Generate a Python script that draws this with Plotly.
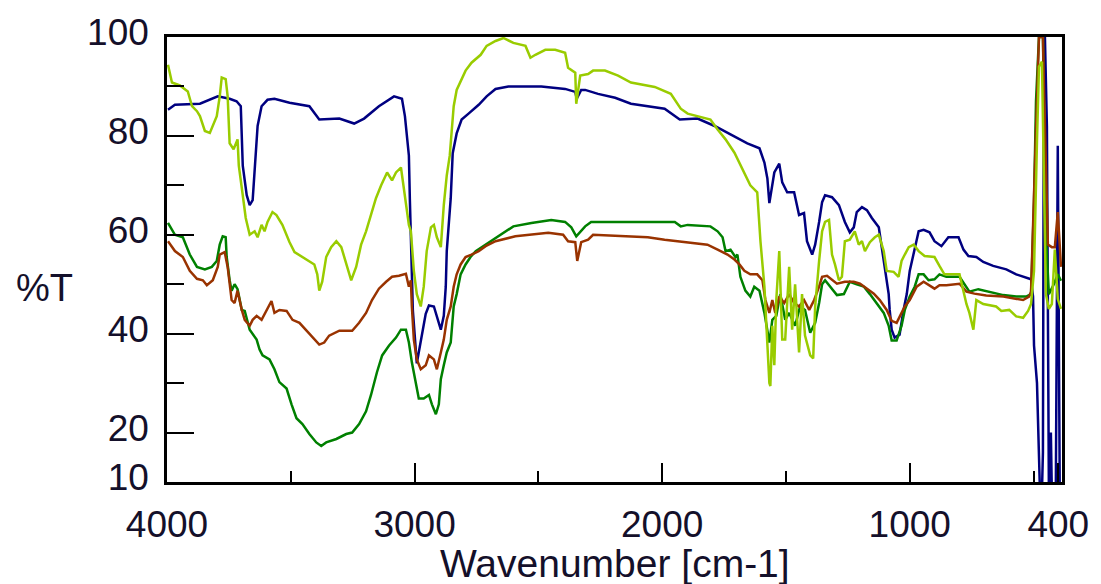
import plotly.graph_objects as go

# ---------------- data (wavenumber in cm-1, %T) ----------------
blue_wn = [3996, 3968, 3867, 3827, 3795, 3747, 3719, 3702, 3694, 3678, 3666, 3654, 3642, 3634, 3618, 3594,
           3566, 3505, 3425, 3385, 3304, 3244, 3204, 3144, 3083, 3051, 3039, 3023, 3019, 3015, 3011, 3007,
           2991, 2955, 2942, 2922, 2894, 2882, 2874, 2870, 2854, 2846, 2830, 2810, 2782, 2741, 2709, 2673,
           2621, 2488, 2392, 2351, 2345, 2327, 2311, 2259, 2190, 2126, 1990, 1929, 1857, 1788, 1724, 1656,
           1607, 1587, 1575, 1567, 1547, 1527, 1515, 1495, 1467, 1447, 1427, 1415, 1394, 1382, 1366, 1354,
           1342, 1314, 1286, 1262, 1242, 1226, 1214, 1193, 1173, 1153, 1125, 1113, 1101, 1085, 1081, 1073,
           1061, 1041, 1025, 1012, 1000, 984, 964, 944, 920, 900, 872, 844, 803, 783, 763, 731, 703, 663,
           610, 570, 542, 510, 502, 498, 486, 474, 466, 462, 458, 454, 446, 438, 430, 426, 418, 410, 402, 394, 389]
blue_t = [85.3, 86.3, 86.5, 87.3, 88.0, 87.5, 87.0, 86.0, 74.0, 68.0, 66.0, 67.0, 77.0, 82.0, 86.0, 87.3,
          87.5, 86.7, 86.0, 83.3, 83.5, 82.5, 83.5, 86.0, 88.0, 87.5, 84.0, 76.0, 67.0, 60.0, 52.5, 44.7,
          34.0, 44.0, 45.7, 45.5, 40.8, 43.6, 49.5, 56.7, 67.4, 76.5, 80.5, 83.3, 84.5, 86.3, 88.0, 89.5,
          90.0, 90.0, 89.5, 88.9, 87.5, 89.3, 89.3, 88.5, 87.7, 86.5, 85.5, 83.3, 83.5, 82.0, 80.3, 78.5,
          77.5, 74.6, 71.4, 66.4, 72.6, 74.4, 70.6, 68.6, 68.6, 64.0, 64.4, 58.7, 56.0, 58.0, 62.6, 66.6,
          68.0, 67.6, 66.0, 62.6, 60.5, 61.5, 64.6, 65.6, 65.0, 63.4, 61.5, 57.5, 52.7, 48.0, 44.8, 40.8,
          39.2, 39.8, 44.8, 48.0, 52.7, 56.0, 60.7, 61.0, 60.5, 58.7, 57.7, 59.5, 59.5, 57.0, 55.7, 55.5, 54.5, 53.7,
          53.0, 52.0, 51.5, 51.0, 47.5, 37.6, 30.0, 8.0, 8.0, 16.0, 100.0, 100.0, 82.0, 8.0, 20.0, 8.0, 8.0, 8.0, 78.0, 8.0, 8.0]

lime_wn = [3996, 3980, 3948, 3916, 3899, 3879, 3867, 3847, 3827, 3815, 3799, 3787, 3779, 3763, 3755, 3747,
           3731, 3715, 3710, 3694, 3682, 3666, 3646, 3634, 3618, 3606, 3594, 3574, 3558, 3534, 3505, 3485,
           3453, 3425, 3405, 3393, 3385, 3373, 3357, 3337, 3316, 3296, 3276, 3256, 3236, 3216, 3196, 3176,
           3156, 3135, 3111, 3091, 3075, 3055, 3039, 3023, 3015, 3003, 2991, 2975, 2963, 2951, 2934, 2922,
           2910, 2894, 2882, 2870, 2858, 2842, 2830, 2814, 2794, 2770, 2733, 2709, 2673, 2641, 2601, 2552,
           2532, 2512, 2472, 2432, 2392, 2380, 2351, 2347, 2331, 2299, 2279, 2231, 2178, 2126, 2030, 1965,
           1925, 1897, 1857, 1805, 1776, 1744, 1708, 1668, 1644, 1616, 1603, 1587, 1575, 1567, 1563, 1555,
           1547, 1539, 1527, 1515, 1503, 1487, 1475, 1463, 1447, 1435, 1423, 1402, 1390, 1382, 1366, 1354,
           1342, 1326, 1314, 1302, 1286, 1274, 1262, 1242, 1222, 1206, 1193, 1181, 1161, 1141, 1125, 1105,
           1093, 1065, 1045, 1033, 1020, 1004, 984, 964, 940, 900, 880, 860, 799, 783, 771, 759, 743, 731,
           703, 651, 630, 598, 570, 542, 522, 510, 498, 486, 478, 466, 458, 450, 438, 426, 414, 402, 389]
lime_t = [94.4, 90.8, 90.2, 89.0, 86.0, 85.0, 84.0, 81.0, 80.6, 82.0, 84.0, 88.0, 91.8, 91.5, 88.0, 78.5,
          77.3, 79.3, 74.0, 68.0, 63.4, 60.0, 60.7, 59.5, 62.0, 60.7, 62.6, 64.6, 64.0, 62.0, 58.5, 56.5,
          55.5, 54.7, 54.0, 52.0, 48.7, 50.5, 55.5, 57.5, 58.7, 57.5, 54.0, 50.8, 53.5, 58.0, 60.7, 64.0,
          67.4, 70.0, 72.6, 71.0, 72.6, 73.6, 67.4, 62.0, 60.7, 52.7, 48.0, 45.5, 49.5, 56.7, 61.5, 62.0,
          59.5, 57.5, 66.0, 72.0, 76.0, 86.0, 89.3, 91.2, 93.2, 94.8, 96.4, 98.2, 99.2, 99.8, 98.8, 98.2,
          95.8, 96.4, 97.4, 97.4, 96.8, 93.8, 92.8, 86.5, 92.2, 92.5, 93.2, 93.2, 92.2, 90.8, 89.9, 88.5,
          85.5, 84.5, 84.0, 83.3, 81.3, 79.3, 76.6, 72.6, 70.0, 68.6, 58.7, 49.5, 37.6, 30.0, 29.4, 41.6,
          33.6, 46.8, 56.7, 38.8, 38.8, 53.5, 40.8, 50.0, 36.2, 48.0, 39.6, 35.6, 35.0, 45.5, 54.7, 60.7,
          62.6, 63.0, 56.0, 54.0, 50.8, 51.5, 58.7, 59.0, 60.7, 58.0, 58.7, 56.7, 58.5, 59.5, 60.0, 56.7,
          52.7, 52.5, 51.5, 54.7, 56.0, 57.5, 58.0, 56.7, 55.7, 55.5, 53.7, 52.0, 52.0, 48.5, 46.0, 44.2, 40.8, 46.8,
          46.0, 45.5, 44.6, 44.8, 43.5, 43.2, 44.6, 46.0, 52.7, 79.0, 94.0, 95.0, 75.0, 48.0, 45.0, 46.0, 57.0, 47.0, 45.0]

green_wn = [3996, 3968, 3936, 3908, 3879, 3847, 3819, 3799, 3787, 3775, 3763, 3759, 3747, 3739, 3727, 3715,
            3698, 3686, 3666, 3638, 3626, 3614, 3586, 3566, 3546, 3517, 3497, 3477, 3453, 3425, 3397, 3377,
            3357, 3316, 3276, 3252, 3224, 3196, 3176, 3152, 3131, 3103, 3075, 3055, 3035, 3023, 3011, 2995,
            2983, 2963, 2942, 2930, 2914, 2902, 2894, 2882, 2870, 2854, 2842, 2830, 2814, 2794, 2774, 2753,
            2713, 2661, 2601, 2528, 2448, 2392, 2367, 2347, 2311, 2287, 2126, 1949, 1925, 1897, 1805, 1776,
            1756, 1744, 1724, 1704, 1696, 1684, 1664, 1644, 1628, 1607, 1587, 1567, 1555, 1539, 1523, 1503,
            1487, 1463, 1443, 1423, 1402, 1382, 1366, 1354, 1342, 1322, 1294, 1266, 1242, 1214, 1185, 1161,
            1133, 1105, 1085, 1073, 1053, 1033, 1020, 1000, 980, 964, 944, 924, 900, 880, 852, 799, 779, 759,
            723, 679, 622, 570, 530, 510, 498, 490, 478, 462, 450, 438, 418, 402, 389]
green_t = [62.4, 60.0, 59.5, 56.0, 53.5, 53.0, 53.5, 54.7, 58.0, 59.7, 59.5, 55.5, 50.8, 48.7, 50.0, 49.0,
           44.8, 44.6, 40.8, 38.8, 36.8, 35.6, 34.8, 32.8, 30.2, 28.9, 25.7, 22.9, 21.7, 19.7, 18.0, 17.3,
           18.0, 18.7, 19.7, 20.0, 21.7, 24.3, 27.6, 32.2, 35.6, 37.6, 39.2, 40.8, 40.8, 38.2, 34.2, 30.2,
           26.9, 26.9, 27.6, 25.7, 23.7, 25.7, 30.8, 33.6, 36.2, 38.2, 45.5, 48.0, 52.0, 54.0, 55.5, 56.7,
           58.0, 59.7, 61.7, 62.4, 63.0, 62.6, 61.5, 59.7, 61.7, 62.6, 62.6, 62.6, 61.7, 62.0, 61.7, 60.7,
           59.5, 56.7, 57.0, 55.5, 56.0, 51.5, 48.7, 47.5, 49.5, 48.7, 44.2, 38.2, 42.8, 43.6, 48.0, 42.8,
           44.2, 41.6, 45.5, 44.8, 40.2, 42.2, 46.2, 50.0, 50.8, 49.5, 47.8, 48.0, 50.5, 50.0, 49.5, 48.0,
           46.2, 44.2, 41.6, 38.6, 38.6, 41.6, 44.8, 47.5, 49.5, 52.0, 52.0, 50.8, 51.0, 52.0, 51.5, 51.5, 50.0, 48.5,
           49.0, 48.5, 47.8, 47.5, 47.5, 48.0, 66.6, 87.0, 100.0, 100.0, 60.0, 48.0, 50.0, 52.0, 50.7]

brown_wn = [3996, 3968, 3936, 3908, 3879, 3855, 3839, 3815, 3795, 3787, 3767, 3755, 3739, 3727, 3715, 3698,
            3686, 3666, 3654, 3638, 3618, 3598, 3578, 3566, 3546, 3517, 3493, 3465, 3437, 3413, 3385, 3365,
            3345, 3304, 3252, 3224, 3196, 3172, 3144, 3115, 3091, 3063, 3035, 3023, 3015, 3011, 3003, 2991,
            2975, 2955, 2942, 2922, 2910, 2894, 2882, 2870, 2854, 2842, 2830, 2814, 2794, 2770, 2741, 2713,
            2673, 2593, 2528, 2460, 2400, 2380, 2351, 2343, 2327, 2299, 2279, 2150, 2058, 1990, 1897, 1817,
            1776, 1736, 1708, 1688, 1668, 1644, 1616, 1595, 1583, 1567, 1555, 1543, 1527, 1507, 1487, 1467,
            1447, 1427, 1406, 1386, 1366, 1354, 1334, 1314, 1294, 1262, 1226, 1201, 1173, 1145, 1121, 1093,
            1073, 1053, 1033, 1020, 1000, 972, 944, 920, 900, 880, 852, 799, 771, 739, 691, 622, 570, 542,
            518, 510, 490, 478, 462, 458, 442, 426, 414, 402, 389]
brown_t = [58.7, 56.7, 55.5, 52.7, 51.1, 50.8, 49.8, 50.8, 53.5, 56.0, 56.5, 53.5, 46.8, 46.2, 48.7, 44.8,
           42.8, 41.6, 42.8, 43.6, 42.8, 44.8, 46.6, 44.2, 44.8, 44.6, 42.8, 42.2, 40.6, 39.2, 37.8, 38.2,
           39.6, 40.6, 40.6, 42.2, 44.2, 46.8, 49.1, 50.5, 51.5, 51.7, 52.1, 49.5, 50.8, 45.5, 38.8, 34.8,
           32.8, 33.6, 35.6, 34.8, 32.8, 36.2, 38.8, 42.8, 45.5, 49.5, 52.0, 54.0, 55.5, 56.0, 56.7, 57.7,
           58.7, 59.7, 60.0, 60.4, 60.0, 58.7, 58.5, 54.7, 58.5, 59.0, 60.0, 59.7, 59.5, 59.0, 58.5, 58.0,
           57.0, 56.0, 55.0, 54.0, 52.7, 52.0, 52.0, 50.8, 46.8, 44.2, 46.8, 44.2, 47.5, 46.2, 48.0, 46.2,
           45.5, 46.8, 44.8, 46.8, 49.5, 51.5, 51.7, 50.8, 50.1, 50.5, 50.5, 50.1, 49.1, 48.1, 46.8, 44.8,
           42.6, 42.2, 44.2, 45.5, 46.8, 49.5, 50.5, 49.8, 49.1, 49.8, 49.8, 50.1, 48.5, 48.1, 47.7, 47.5, 47.1, 46.8,
           47.5, 48.5, 81.3, 100.0, 100.0, 90.0, 58.0, 57.5, 57.5, 64.6, 53.5]

x_tick_vals = [4000, 3000, 2000, 1000, 400]
x_tick_text = ["4000", "3000", "2000", "1000", "400"]
x_minor_vals = [3500, 2500, 1500, 500]
y_tick_vals = [10, 20, 40, 60, 80, 100]
y_tick_text = ["10", "20", "40", "60", "80", "100"]
y_minor_vals = [30, 50, 70, 90]

series = [
    (blue_wn, blue_t, "#000080"),
    (green_wn, green_t, "#008000"),
    (brown_wn, brown_t, "#993300"),
    (lime_wn, lime_t, "#99CC00"),
]

fig = go.Figure()
for wn, t, col in series:
    fig.add_trace(go.Scatter(x=wn, y=t, mode="lines",
                             line=dict(color=col, width=2.5), showlegend=False,
                             hoverinfo="skip"))

FONT = "Liberation Sans, Arial, sans-serif"
TXT = "#14102a"

fig.update_layout(
    width=1101, height=584,
    margin=dict(l=167, r=35, t=29, b=102),
    paper_bgcolor="white", plot_bgcolor="white",
    font=dict(family=FONT, size=37, color=TXT),
    showlegend=False,
)
fig.update_xaxes(
    range=[4000, 385], showgrid=False, zeroline=False,
    showline=True, linecolor="black", linewidth=2.5, mirror=True,
    tickmode="array", tickvals=x_tick_vals, ticktext=x_tick_text,
    ticks="inside", ticklen=19, tickwidth=2, tickcolor="black",
    ticklabelstandoff=8,
    minor=dict(tickmode="array", tickvals=x_minor_vals, ticks="inside",
               ticklen=11, tickwidth=2, tickcolor="black", showgrid=False),
    tickfont=dict(family=FONT, size=37, color=TXT),
)
fig.update_yaxes(
    range=[10, 100], showgrid=False, zeroline=False,
    showline=True, linecolor="black", linewidth=2.5, mirror=True,
    tickmode="array", tickvals=y_tick_vals, ticktext=y_tick_text,
    ticks="inside", ticklen=27, tickwidth=2, tickcolor="black",
    ticklabelstandoff=8, ticklabelshift=-5,
    minor=dict(tickmode="array", tickvals=y_minor_vals, ticks="inside",
               ticklen=17, tickwidth=2, tickcolor="black", showgrid=False),
    tickfont=dict(family=FONT, size=37, color=TXT),
)

fig.add_annotation(text="Wavenumber [cm-1]", xref="paper", yref="paper",
                   x=0.5, y=0, yanchor="top", xanchor="center", yshift=-58,
                   showarrow=False, font=dict(family=FONT, size=39, color=TXT))
fig.add_annotation(text="%T", xref="paper", yref="paper",
                   x=0, y=0.5, xanchor="right", yanchor="middle", xshift=-92, yshift=-28,
                   showarrow=False, font=dict(family=FONT, size=38, color=TXT))

fig.write_html("out.html")
